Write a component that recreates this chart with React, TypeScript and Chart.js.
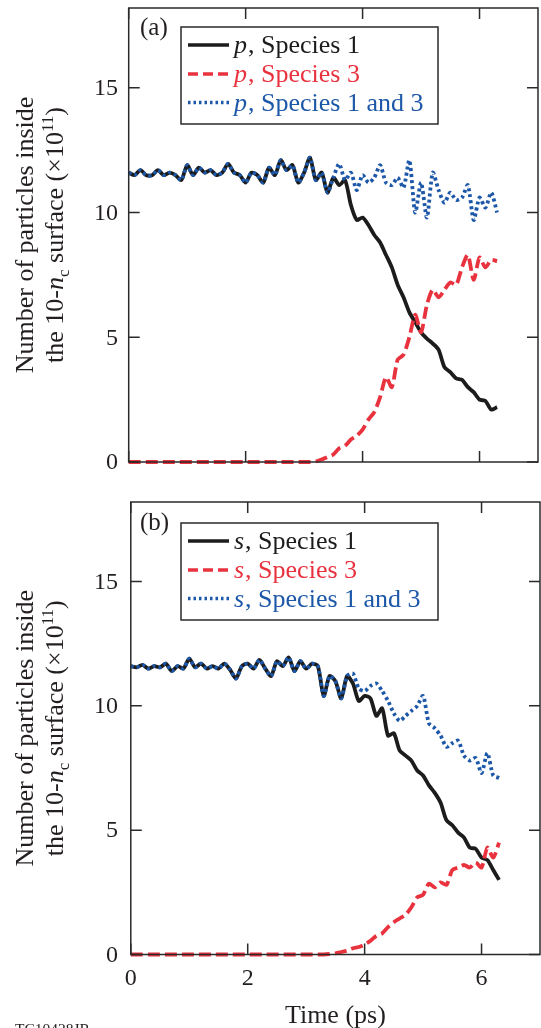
import { useEffect, useRef } from "react";
import { Chart, registerables } from "chart.js";

Chart.register(...registerables);

const FONT = '"Liberation Serif", "Times New Roman", serif';
const TEXT = "#231f20";
const C_BLACK = "#1c1c1c";
const C_RED = "#e8333f";
const C_BLUE = "#1d58a8";

const X_TICKS = [0, 2, 4, 6];
const Y_TICKS = [0, 5, 10, 15];

const TIME = [
  0.0, 0.1, 0.2, 0.3, 0.4, 0.5, 0.6, 0.7, 0.8, 0.9,
  1.0, 1.1, 1.2, 1.3, 1.4, 1.5, 1.6, 1.7, 1.8, 1.9,
  2.0, 2.1, 2.2, 2.3, 2.4, 2.5, 2.6, 2.7, 2.8, 2.9,
  3.0, 3.1, 3.2, 3.3, 3.4, 3.5, 3.6, 3.7, 3.8, 3.9,
  4.0, 4.1, 4.2, 4.3, 4.4, 4.5, 4.6, 4.7, 4.8, 4.9,
  5.0, 5.1, 5.2, 5.3, 5.4, 5.5, 5.6, 5.7, 5.8, 5.9,
  6.0, 6.1, 6.2, 6.3,
];

// Panel (a): p polarization
const P_SPECIES1 = [
  11.6, 11.5, 11.7, 11.5, 11.5, 11.7, 11.5, 11.6, 11.5, 11.3,
  11.9, 11.5, 11.8, 11.6, 11.7, 11.5, 11.6, 11.95, 11.6, 11.5,
  11.2, 11.6, 11.5, 11.2, 11.8, 11.5, 12.1, 11.7, 11.9, 11.2,
  11.6, 12.2, 11.3, 11.6, 10.8, 11.4, 11.1, 11.3, 10.3, 9.7,
  9.8, 9.5, 9.1, 8.8, 8.3, 7.8, 7.1, 6.6, 6.0, 5.6,
  5.2, 4.95, 4.75, 4.5, 3.8, 3.6, 3.35, 3.3, 3.0, 2.8,
  2.5, 2.45, 2.1, 2.2,
];
const P_SPECIES3 = [
  0, 0, 0, 0, 0, 0, 0, 0, 0, 0,
  0, 0, 0, 0, 0, 0, 0, 0, 0, 0,
  0, 0, 0, 0, 0, 0, 0, 0, 0, 0,
  0, 0, 0.02, 0.1, 0.2, 0.3, 0.55, 0.65, 0.9, 1.05,
  1.3, 1.7, 2.0, 2.6, 3.4, 3.0, 4.1, 4.3, 5.0, 5.9,
  5.2, 6.3, 6.9, 6.6, 6.9, 7.2, 7.1, 7.8, 8.3, 7.3,
  8.2, 7.8, 8.1, 8.05,
];
const P_SPECIES13 = [
  11.6, 11.5, 11.7, 11.5, 11.5, 11.7, 11.5, 11.6, 11.5, 11.3,
  11.9, 11.5, 11.8, 11.6, 11.7, 11.5, 11.6, 11.95, 11.6, 11.5,
  11.2, 11.6, 11.5, 11.2, 11.8, 11.5, 12.1, 11.7, 11.9, 11.2,
  11.6, 12.2, 11.3, 11.6, 10.8, 11.4, 11.95, 11.3, 11.6, 10.9,
  11.5, 11.2, 11.4, 11.9, 11.2, 11.1, 11.4, 11.0, 12.1, 10.0,
  11.2, 9.8, 11.6, 10.9, 10.4, 10.8, 10.5, 10.6, 11.1, 9.7,
  10.6, 10.2, 10.8, 10.0,
];

// Panel (b): s polarization
const S_SPECIES1 = [
  11.6, 11.55, 11.65, 11.5, 11.6, 11.55, 11.7, 11.4, 11.6, 11.5,
  11.9, 11.55, 11.7, 11.5, 11.6, 11.5, 11.7, 11.45, 11.1, 11.6,
  11.7, 11.5, 11.85, 11.5, 11.2, 11.8, 11.6, 11.95, 11.4, 11.8,
  11.5, 11.7, 11.6, 10.4, 11.2, 11.0, 10.3, 11.2, 10.9, 10.2,
  10.4, 10.3, 9.6, 9.9, 8.8, 8.9, 8.2, 8.0, 7.8, 7.4,
  7.2, 6.8, 6.5, 6.1, 5.4, 5.2, 4.9, 4.7, 4.3, 4.25,
  3.9, 3.8, 3.4, 3.0,
];
const S_SPECIES3 = [
  0, 0, 0, 0, 0, 0, 0, 0, 0, 0,
  0, 0, 0, 0, 0, 0, 0, 0, 0, 0,
  0, 0, 0, 0, 0, 0, 0, 0, 0, 0,
  0, 0, 0, 0, 0.02, 0.05, 0.1, 0.15, 0.25, 0.3,
  0.4, 0.55, 0.75, 0.85, 1.1, 1.3, 1.45, 1.6, 1.9, 2.3,
  2.4, 2.85, 2.7, 2.9, 2.8, 3.4, 3.5, 3.6, 3.5, 3.7,
  3.5, 4.3, 3.9, 4.5,
];
const S_SPECIES13 = [
  11.6, 11.55, 11.65, 11.5, 11.6, 11.55, 11.7, 11.4, 11.6, 11.5,
  11.9, 11.55, 11.7, 11.5, 11.6, 11.5, 11.7, 11.45, 11.1, 11.6,
  11.7, 11.5, 11.85, 11.5, 11.2, 11.8, 11.6, 11.95, 11.4, 11.8,
  11.5, 11.7, 11.6, 10.4, 11.2, 11.0, 10.3, 11.2, 11.3, 10.7,
  10.6, 10.8, 10.9, 10.6, 10.2, 9.7, 9.4, 9.6, 9.8, 10.0,
  10.4, 9.3, 9.1, 8.8, 8.35, 8.5, 8.6, 8.0, 7.8, 7.9,
  7.3, 8.1, 7.2, 7.1,
];

const LEGEND_NAMES = ["Species 1", "Species 3", "Species 1 and 3"];
const Y_TITLE_1 = "Number of particles inside";
const X_TITLE = "Time (ps)";
const CREDIT = "TC10428JR";

type PanelProps = {
  top: number;
  height: number;
  padding: { left: number; right: number; top: number; bottom: number };
  s1: number[];
  s3: number[];
  s13: number[];
  tag: string;
  sym: string;
  legendTop: number;
  tagBaseline: number;
  showXLabels: boolean;
};

function Panel(props: PanelProps) {
  const ref = useRef<HTMLCanvasElement | null>(null);
  useEffect(() => {
    const canvas = ref.current;
    if (!canvas) return;
    const pts = (arr: number[]) => TIME.map((t, i) => ({ x: t, y: arr[i] }));

    const deco = {
      id: "deco",
      afterDraw(chart: any) {
        const { ctx, chartArea: a } = chart;
        const xs = chart.scales.x;
        const ys = chart.scales.y;
        ctx.save();
        ctx.strokeStyle = "#2a2a2a";
        ctx.lineWidth = 1.5;
        ctx.setLineDash([]);
        ctx.strokeRect(a.left, a.top, a.right - a.left, a.bottom - a.top);
        const TL = 11;
        ctx.beginPath();
        X_TICKS.forEach((v) => {
          const px = xs.getPixelForValue(v);
          ctx.moveTo(px, a.bottom);
          ctx.lineTo(px, a.bottom - TL);
          ctx.moveTo(px, a.top);
          ctx.lineTo(px, a.top + TL);
        });
        Y_TICKS.forEach((v) => {
          const py = ys.getPixelForValue(v);
          ctx.moveTo(a.left, py);
          ctx.lineTo(a.left + TL, py);
          ctx.moveTo(a.right, py);
          ctx.lineTo(a.right - TL, py);
        });
        ctx.stroke();

        ctx.fillStyle = TEXT;
        ctx.font = `24px ${FONT}`;
        ctx.textAlign = "right";
        ctx.textBaseline = "middle";
        Y_TICKS.forEach((v) => {
          ctx.fillText(String(v), 118, ys.getPixelForValue(v) + 1);
        });

        if (props.showXLabels) {
          ctx.textAlign = "center";
          ctx.textBaseline = "alphabetic";
          ctx.font = `24px ${FONT}`;
          X_TICKS.forEach((v) => {
            ctx.fillText(String(v), xs.getPixelForValue(v), a.bottom + 30.5);
          });
          ctx.font = `26px ${FONT}`;
          ctx.fillText(X_TITLE, (a.left + a.right) / 2, a.bottom + 68);
          ctx.textAlign = "left";
          ctx.font = `15.5px ${FONT}`;
          ctx.fillText(CREDIT, 15, a.bottom + 79);
        }

        const midY = (a.top + a.bottom) / 2;
        ctx.textBaseline = "alphabetic";
        ctx.save();
        ctx.translate(33, midY);
        ctx.rotate(-Math.PI / 2);
        ctx.textAlign = "center";
        ctx.font = `26px ${FONT}`;
        ctx.fillText(Y_TITLE_1, 0, 0);
        ctx.restore();

        const segs = [
          { t: "the 10-", f: `26px ${FONT}`, dy: 0 },
          { t: "n", f: `italic 26px ${FONT}`, dy: 0 },
          { t: "c", f: `17px ${FONT}`, dy: 6 },
          { t: " surface (\u00d710", f: `26px ${FONT}`, dy: 0 },
          { t: "11", f: `17px ${FONT}`, dy: -10 },
          { t: ")", f: `26px ${FONT}`, dy: 0 },
        ];
        ctx.save();
        ctx.translate(63, midY);
        ctx.rotate(-Math.PI / 2);
        ctx.textAlign = "left";
        let total = 0;
        segs.forEach((s) => {
          ctx.font = s.f;
          total += ctx.measureText(s.t).width;
        });
        let cx = -total / 2;
        segs.forEach((s) => {
          ctx.font = s.f;
          ctx.fillText(s.t, cx, s.dy);
          cx += ctx.measureText(s.t).width;
        });
        ctx.restore();

        ctx.textAlign = "left";
        ctx.font = `25px ${FONT}`;
        ctx.fillStyle = TEXT;
        ctx.fillText(props.tag, 140, props.tagBaseline);

        const bx = 181, bw = 257, bt = props.legendTop, bh = 97;
        ctx.fillStyle = "#ffffff";
        ctx.fillRect(bx, bt, bw, bh);
        ctx.strokeStyle = "#2a2a2a";
        ctx.lineWidth = 1.5;
        ctx.strokeRect(bx, bt, bw, bh);
        const rows = [
          { c: C_BLACK, dash: [] as number[], w: 3.4 },
          { c: C_RED, dash: [10, 5], w: 3.4 },
          { c: C_BLUE, dash: [2.5, 3], w: 3.4 },
        ];
        const baselines = [bt + 26, bt + 55, bt + 83.5];
        rows.forEach((r, i) => {
          const yb = baselines[i];
          ctx.strokeStyle = r.c;
          ctx.lineWidth = r.w;
          ctx.setLineDash(r.dash);
          ctx.lineCap = "butt";
          ctx.beginPath();
          ctx.moveTo(188, yb - 8);
          ctx.lineTo(229, yb - 8);
          ctx.stroke();
          ctx.setLineDash([]);
          ctx.fillStyle = r.c;
          ctx.font = `italic 26px ${FONT}`;
          ctx.fillText(props.sym, 234, yb);
          const w = ctx.measureText(props.sym).width;
          ctx.font = `26px ${FONT}`;
          ctx.fillText(", " + LEGEND_NAMES[i], 234 + w + 1, yb);
        });
        ctx.restore();
      },
    };

    const chart = new Chart(canvas, {
      type: "line",
      data: {
        datasets: [
          {
            data: pts(props.s13),
            borderColor: C_BLUE,
            borderWidth: 3.8,
            borderDash: [3, 3],
            borderCapStyle: "butt",
            tension: 0.25,
            pointRadius: 0,
            fill: false,
            clip: 5,
          } as any,
          {
            data: pts(props.s3),
            borderColor: C_RED,
            borderWidth: 3.8,
            borderDash: [12, 5],
            borderCapStyle: "butt",
            tension: 0.25,
            pointRadius: 0,
            fill: false,
            clip: 5,
          },
          {
            data: pts(props.s1),
            borderColor: C_BLACK,
            borderWidth: 3.8,
            tension: 0.25,
            pointRadius: 0,
            fill: false,
            clip: 5,
          },
        ],
      },
      options: {
        animation: false,
        responsive: false,
        devicePixelRatio: 1,
        layout: { padding: props.padding },
        plugins: { legend: { display: false }, tooltip: { enabled: false } },
        scales: {
          x: { type: "linear", min: 0, max: 7, display: false },
          y: { type: "linear", min: 0, max: 18.2, display: false },
        },
      },
      plugins: [deco],
    } as any);
    return () => chart.destroy();
  }, []);
  return (
    <canvas
      ref={ref}
      width={541}
      height={props.height}
      style={{ position: "absolute", left: 0, top: props.top, width: 541, height: props.height }}
    />
  );
}

export default function App() {
  return (
    <div style={{ position: "absolute", left: 0, top: 0, width: 541, height: 1028, background: "#fff", overflow: "hidden" }}>
      <Panel
        top={0}
        height={490}
        padding={{ left: 128.7, right: 3, top: 8, bottom: 28 }}
        s1={P_SPECIES1}
        s3={P_SPECIES3}
        s13={P_SPECIES13}
        tag="(a)"
        sym="p"
        legendTop={27}
        tagBaseline={35}
        showXLabels={false}
      />
      <Panel
        top={490}
        height={538}
        padding={{ left: 130.8, right: 1, top: 12, bottom: 73.5 }}
        s1={S_SPECIES1}
        s3={S_SPECIES3}
        s13={S_SPECIES13}
        tag="(b)"
        sym="s"
        legendTop={33}
        tagBaseline={40}
        showXLabels={true}
      />
    </div>
  );
}
